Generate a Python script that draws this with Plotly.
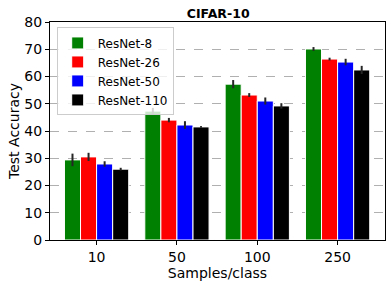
import plotly.graph_objects as go

categories = ["10", "50", "100", "250"]
models = ["ResNet-8", "ResNet-26", "ResNet-50", "ResNet-110"]
colors = ["green", "red", "blue", "black"]
means = [
    [29.4, 47.3, 57.2, 70.1],
    [30.5, 44.0, 53.2, 66.4],
    [27.9, 42.2, 51.0, 65.3],
    [26.0, 41.5, 49.2, 62.4],
]
errs = [
    [2.3, 1.2, 1.5, 0.7],
    [1.5, 0.8, 0.7, 0.5],
    [1.0, 1.4, 1.3, 1.2],
    [0.5, 0.3, 1.0, 1.5],
]

fig = go.Figure()
for name, col, m, e in zip(models, colors, means, errs):
    fig.add_trace(go.Bar(
        x=categories, y=m, name=name,
        marker=dict(color=col, line=dict(color="white", width=1)),
        error_y=dict(type="data", array=e, color="#262626", thickness=2, width=0),
    ))

fig.update_layout(
    width=391, height=286,
    margin=dict(l=50, r=6, t=22, b=46, autoexpand=False),
    paper_bgcolor="white", plot_bgcolor="white",
    font=dict(family="DejaVu Sans", color="black"),
    barmode="group", bargap=0.2, bargroupgap=0.0,
    title=dict(text="<b>CIFAR-10</b>", x=0.558, xanchor="center", y=0.952, yanchor="middle",
               font=dict(size=12.5, family="DejaVu Sans")),
    legend=dict(x=0.02, y=0.975, xanchor="left", yanchor="top",
                bgcolor="rgba(255,255,255,0.8)", bordercolor="#cccccc", borderwidth=1,
                font=dict(size=12), itemwidth=30),
    showlegend=True,
)
fig.update_xaxes(
    title=dict(text="Samples/class", font=dict(size=14), standoff=3),
    tickfont=dict(size=14), ticks="outside", ticklen=4, tickcolor="black",
    showline=True, linecolor="black", linewidth=1, mirror=True,
    range=[-0.58, 3.59], automargin=False,
)
fig.update_yaxes(
    title=dict(text="Test Accuracy", font=dict(size=14), standoff=1),
    tickfont=dict(size=14), ticks="outside", ticklen=4, tickcolor="black",
    showline=True, linecolor="black", linewidth=1, mirror=True,
    range=[0, 80], dtick=10, automargin=False,
    showgrid=True, gridcolor="#b0b0b0", griddash="dash", gridwidth=1,
    zeroline=False,
)
fig.write_html("out.html", config={"displayModeBar": False},
               post_script="document.body.style.margin='0px';")
